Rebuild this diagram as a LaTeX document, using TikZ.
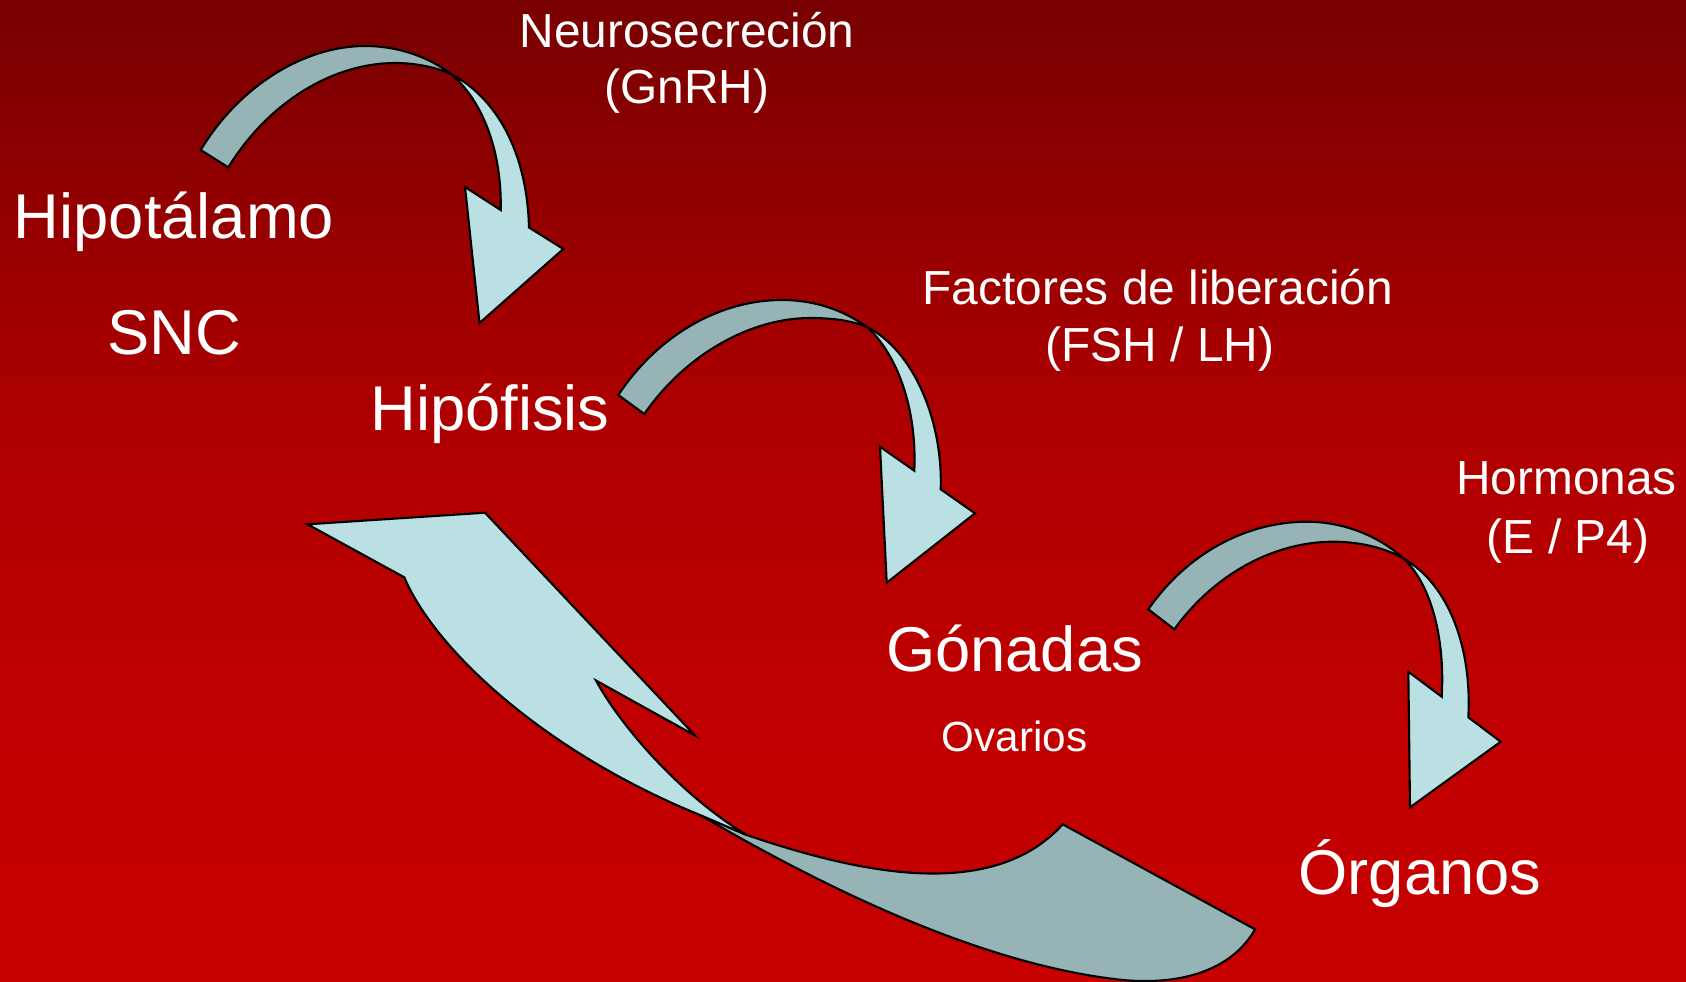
\documentclass[tikz,border=0pt]{standalone}
\usepackage{fontspec}
\setmainfont{Liberation Sans}
\definecolor{arrowback}{RGB}{150,180,182}
\definecolor{arrowfront}{RGB}{186,224,227}
\pgfdeclareverticalshading{slidebg}{100bp}{rgb(0bp)=(0.78,0,0); rgb(25bp)=(0.78,0,0); rgb(39bp)=(0.75,0,0); rgb(54bp)=(0.68,0,0); rgb(75bp)=(0.47,0,0); rgb(100bp)=(0.47,0,0)}

\begin{document}
\begin{tikzpicture}[x=0.01cm, y=-0.01cm,
    back/.style={fill=arrowback, draw=black, line width=0.6pt},
    front/.style={fill=arrowfront, draw=black, line width=0.6pt},
    big/.style={text=white, inner sep=0pt, anchor=base, font=\fontsize{18}{22}\selectfont},
    mid/.style={text=white, inner sep=0pt, anchor=base, font=\fontsize{13.6}{16}\selectfont},
    small/.style={text=white, inner sep=0pt, anchor=base, font=\fontsize{12}{14}\selectfont}]
    % Background
    \shade[shading=slidebg] (0,0) rectangle (1686,981);
    \useasboundingbox (0,0) rectangle (1686,981);
    % Hipotalamo -> Hipofisis
    \draw[back] (200.7,150) .. controls (240,85) and (305,46) .. (365,46)
        .. controls (400,46) and (430,58) .. (451,74)
        .. controls (435,67) and (415,63) .. (395,63)
        .. controls (335,63) and (270,100) .. (228.3,167.3) -- cycle;
    \draw[front] (451,74) .. controls (482,100) and (502,150) .. (500.7,210)
        -- (465,187) -- (479.5,323) -- (563.3,249) -- (529,227.5)
        .. controls (527,150) and (495,97) .. (451,74) -- cycle;
    % Hipofisis -> Gonadas
    \draw[back] (618.3,395) .. controls (658,335) and (720,300) .. (781.7,300)
        .. controls (818,300) and (846,312) .. (867,327)
        .. controls (850,320) and (830,318) .. (810,318)
        .. controls (750,318) and (685,355) .. (644.3,414) -- cycle;
    \draw[front] (867,327) .. controls (898,355) and (917,410) .. (914.3,470.7)
        -- (880,446.7) -- (886.7,582.7) -- (975,513.3) -- (940.7,489.3)
        .. controls (943,420) and (913,350) .. (867,327) -- cycle;
    % Gonadas -> Organos
    \draw[back] (1148.3,609.3) .. controls (1188,552) and (1248,521.7) .. (1306.7,521.7)
        .. controls (1345,521.7) and (1380,537) .. (1403.3,558.3)
        .. controls (1385,548) and (1360,541.7) .. (1333.3,541.7)
        .. controls (1275,541.7) and (1215,573) .. (1174.3,629.3) -- cycle;
    \draw[front] (1403.3,558.3) .. controls (1432,585) and (1445,640) .. (1441.7,696.7)
        -- (1408.3,671.7) -- (1410,807.3) -- (1500.7,741.7) -- (1468.3,717.3)
        .. controls (1472,650) and (1450,585) .. (1403.3,558.3) -- cycle;
    % Retroalimentacion (Gonadas -> Hipotalamo)
    \draw[back] (746.7,835) .. controls (850,870) and (990,905) .. (1062.7,824.3)
        -- (1255,929.3) .. controls (1235,965) and (1190,986) .. (1123,980)
        .. controls (980,965) and (820,885) .. (700,815) -- cycle;
    \draw[front] (307.5,524.3) -- (485,512.7) -- (695,735.5) -- (596,680.5)
        .. controls (620,725) and (680,795) .. (746.7,835)
        -- (700,815) .. controls (545,752) and (435,650) .. (404.3,577.3) -- cycle;
    % Labels
    \node[big] (hipotalamo) at (174,238.7) {Hipotálamo};
    \node[big] (snc) at (174,354.8) {SNC};
    \node[big] (hipofisis) at (490,430) {Hipófisis};
    \node[big] (gonadas) at (1014.5,671) {Gónadas};
    \node[small] (ovarios) at (1014.5,751) {Ovarios};
    \node[big] (organos) at (1420,894.6) {Órganos};
    \node[mid] (neuro) at (687,47.5) {Neurosecreción};
    \node[mid] (gnrh) at (687,103.5) {(GnRH)};
    \node[mid] (factores) at (1158,304) {Factores de liberación};
    \node[mid] (fshlh) at (1160,361) {(FSH / LH)};
    \node[mid] (hormonas) at (1566.6,494.6) {Hormonas};
    \node[mid] (ep4) at (1568,553.5) {(E / P4)};
\end{tikzpicture}
\end{document}
